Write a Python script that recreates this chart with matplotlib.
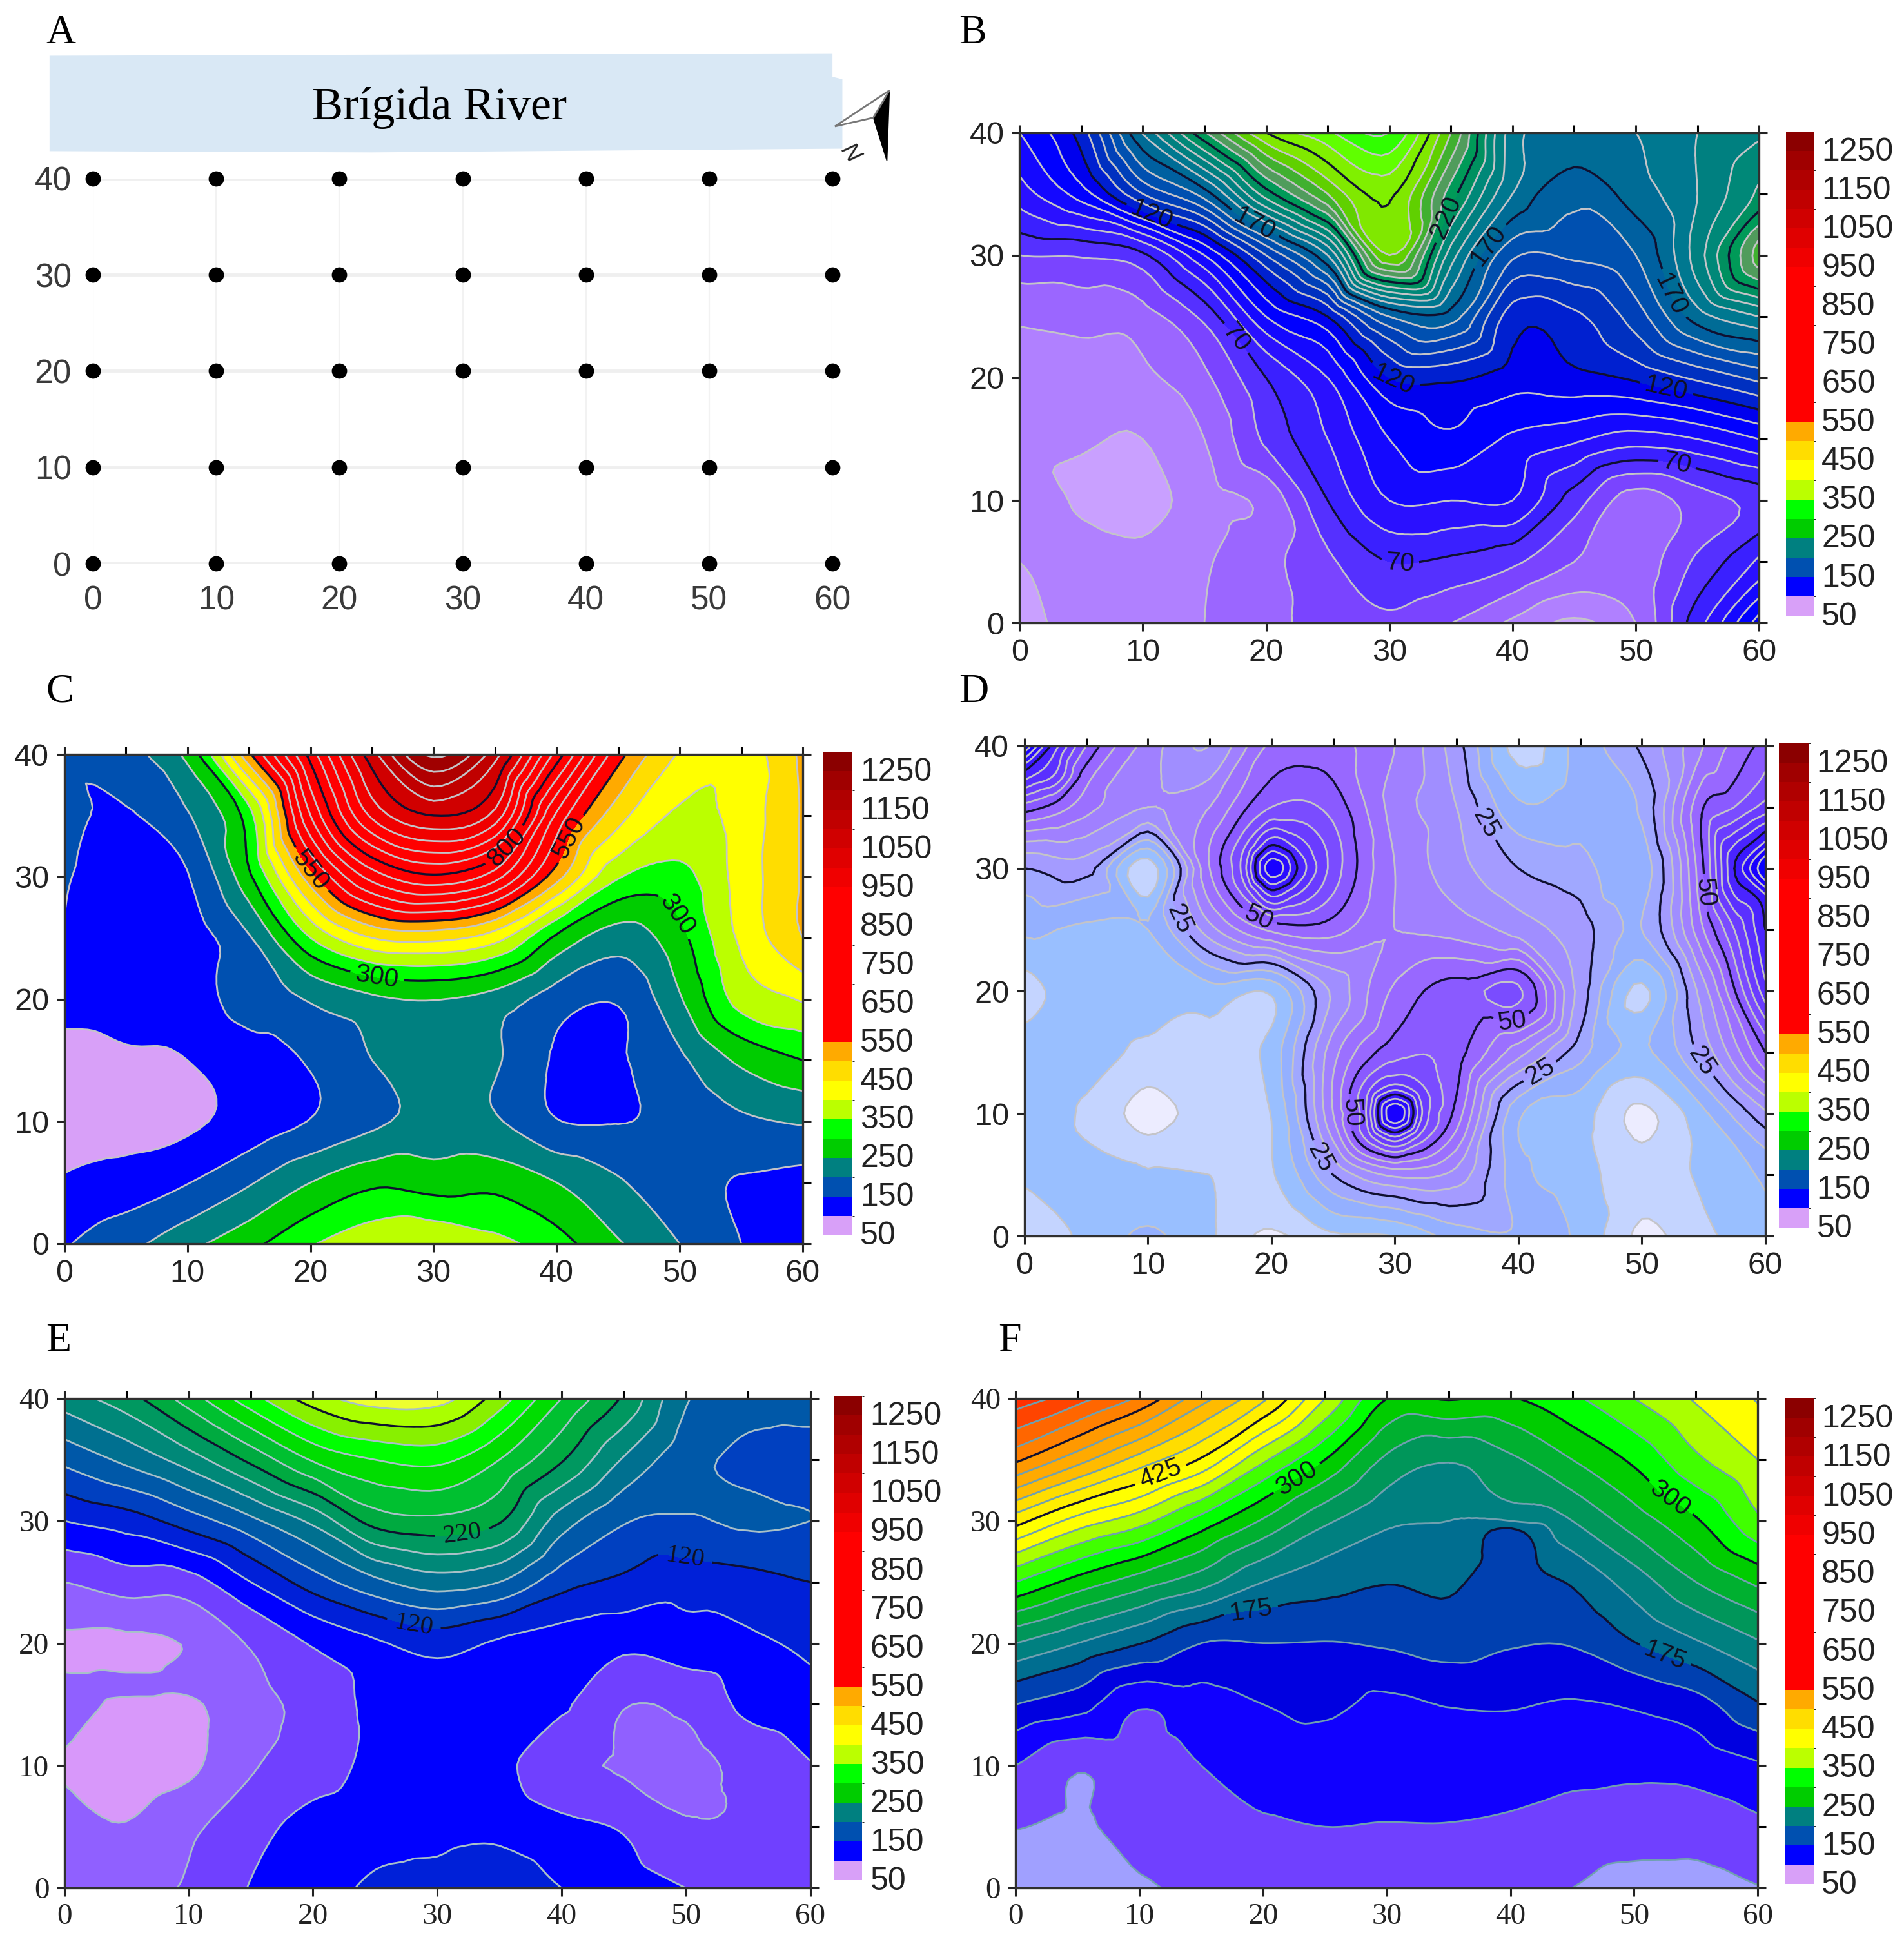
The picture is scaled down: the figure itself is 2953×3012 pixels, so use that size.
import numpy as np
import matplotlib
matplotlib.use("Agg")
import matplotlib.pyplot as plt
import matplotlib.tri as mtri
from matplotlib.colors import ListedColormap, BoundaryNorm
from matplotlib.cm import ScalarMappable
from matplotlib.patches import Polygon
from matplotlib.transforms import ScaledTranslation

W, H = 2953, 3012
SC = 2953 / 1537

x_vals = [0, 5, 10, 15, 20, 25, 30, 35, 40, 45, 50, 55, 60]
y_vals = [40, 35, 30, 25, 20, 15, 10, 5, 0]

grid_b = [
 [100,125,181,229,270,288,300,250,185,178,180,190,198],
 [85,105,140,165,215,250,272,225,180,163,175,190,212],
 [60,61,68,100,140,180,260,195,152,152,160,195,245],
 [42,44,46,63,100,120,160,165,125,128,145,175,190],
 [33,35,38,48,70,90,120,122,115,117,122,132,143],
 [32,31,30,40,62,80,100,108,98,92,85,90,100],
 [38,28.5,26,36,43,70,90,90,90,65,45,55,64],
 [30,34,33,39,47,58,70,68,62,50,44,62,82],
 [27,33,36,40,46,55,58,50,38,28,40,76,115],
]
grid_c = [
 [155,180,265,540,820,1080,1260,1120,830,570,445,420,510],
 [160,145,195,330,700,960,1050,980,640,470,390,420,505],
 [155,115,147,290,530,720,790,720,520,355,335,420,505],
 [148,115,125,195,350,450,465,420,290,225,285,410,500],
 [115,113,125,175,205,240,252,230,175,155,245,370,405],
 [88,96,100,125,155,200,215,205,145,146,190,260,300],
 [85,85,92,120,152,190,215,205,152,148,165,190,205],
 [105,120,148,195,250,290,280,285,250,205,170,147,135],
 [145,185,235,285,345,385,395,365,320,255,200,150,125],
]
grid_d = [
 [95,55,38,30,46,47,40,27,8,17,26,40,52],
 [53,42,35,40,55,53,38,30,16,18,21,50,62],
 [25,27,7,45,88,58,40,32,25,22,17,50,95],
 [16,14,15,33,46,47,40,38,33,27,20,45,75],
 [8,13,13,13,11,31,46,52,56,28,9,33,68],
 [12,12,9,9,12,38,53,52,37,22,14,27,50],
 [12,9.5,3,8,10.2,40,90,48,16,12,4,14,29],
 [10.5,11,10.5,10,9.5,25,36,33,17,12,7,11,16],
 [5,11,16,10.5,4,9,10,17,19,14,4,9,13],
]
extra_d = [(27.5,10,58),(32.5,10,62),(30,12.5,64),(30,7.5,62),(28,8,58),(32,8,58),(28,12,60),(32,12,62),
           (17.5,30,60),(22.5,30,72),(20,32.5,70),(20,27.5,68),(18,28,58),(22,28,66),(18,32,60),(22,32,68),
           (57.5,30,75),(60,32.5,78),(60,27.5,78),(57.5,35,55),(57.5,25,60),
           (2.5,40,72),(0,37.5,72),(2.5,37.5,64),(5,37.5,47),(2.5,35,48)]
grid_e = [
 [190,212,250,292,330,350,348,310,260,217,162,150,150],
 [145,165,190,225,262,280,285,260,222,178,148,135,132],
 [100,110,130,155,185,228,235,222,170,142,138,143,140],
 [60,70,72,100,130,155,170,160,128,116,108,113,120],
 [36,35,42,62,82,97,108,97,90,85,92,96,104],
 [50,36,37,54,66,85,90,90,83,61,64,85,93],
 [38,30,36,58,70,85,92,85,65,58,54,66,79],
 [48,41,56,72,88,93,95,95,85,78,62,62,68],
 [52,55,62,81,92,103,106,112,100,90,80,72,68],
]
extra_e = [(0,19,34),(5,19,32),(5,16.5,45),(10,17,46),(0,16,48)]
grid_f = [
 [640,610,570,510,455,375,300,302,298,320,350,378,402],
 [555,510,465,422,355,300,245,227,245,275,305,345,375],
 [435,390,360,315,272,230,205,200,200,225,262,297,345],
 [325,290,262,235,200,185,176,180,160,178,212,250,280],
 [225,200,176,150,150,149,153,160,152,152,174,197,222],
 [150,135,103,115,125,130,120,126,127,123,128,140,173],
 [100,78,88,100,112,112,113,113,112,108,106,110,122],
 [76,72,85,92,97,100,99,99,96,89,87,86,95],
 [62,65,72,80,85,86,86,85,82,75,66,66,74],
]
extra_f = [(40,29.4,175),(37.5,26.4,175),(42.5,26,175)]

levels_b = list(range(20, 311, 10))
fills_b = ['#C9A0FF','#B080FF','#9B66FF','#7A44FF','#5530FF','#3A20FF','#2A10FF','#1408FF',
           '#0000FF','#0000EE','#0020D0','#0030C0','#0040B8','#0050B0','#0060A0','#006C96','#007890',
           '#008080','#008878','#00905F','#009A58','#509C5C','#40B030','#60D000','#80E800','#80F000',
           '#60FF00','#30FF00','#00FF00']
levels_c = list(range(50, 1301, 50))
cbar_fills = ['#D8A0F8','#0000FF','#0050B0','#008080','#00CC00','#00FF00','#BBFF00','#FFFF00','#FFDD00','#FFAA00',
              '#FF0000','#FF0000','#FF0000','#FF0000','#FF0000','#FF0000','#FF0000','#FF0000',
              '#F00000','#E00000','#D00000','#C00000','#B00000','#A00000','#8B0000']
levels_d = list(range(0, 96, 5))
fills_d = ['#ECECFF','#C4D4FF','#99BFFF','#94B0FF','#A0A8FF','#A49BFF','#A08EFF','#A080FF','#9B70FF','#9868FF',
           '#8A5AFF','#7A4CFF','#6A3CFF','#5A30FF','#4A24FF','#3A18FF','#2A0CFF','#1800FF','#0800FF']
levels_e = list(range(20, 361, 20))
fills_e = ['#D898FA','#9060FF','#7040FF','#0000FF','#0020D8','#0040C0','#0058A8','#007090','#008878','#009860',
           '#00AA40','#00C030','#00DD00','#00FF00','#88F000','#AAFF00','#EEFF30']
levels_f = list(range(50, 651, 25))
fills_f = ['#A0A0FF','#7040FF','#1000FF','#0000E0','#0040B0','#006E90','#008080','#00965A','#00B030','#00CC00',
           '#00FF00','#40FF00','#AAFF00','#FFFF00','#FFFF00','#FFEE00','#FFDD00','#FFBB00','#FFAA00','#FF9900',
           '#FF8000','#FF6600','#FF4400','#FF3000']

cbar_bounds = list(range(50, 1301, 50))
cbar_ticks = list(range(50, 1251, 100))
sample_x = [0, 10, 20, 30, 40, 50, 60]
sample_y = [0, 10, 20, 30, 40]

fig = plt.figure(figsize=(W / 100, H / 100), dpi=100, facecolor='white')

def axes_at(x0, x1, ytop, ybot):
    return fig.add_axes([x0 * SC / W, 1 - ybot * SC / H, (x1 - x0) * SC / W, (ybot - ytop) * SC / H])

SANS = ['Liberation Sans', 'DejaVu Sans']
SERIF = ['Liberation Serif', 'DejaVu Serif']

def panel(box, cbox, grid, levels, fills, black, labels, family=SANS, fs=35, letter=None, lc='#C4C4C8',
          extra=(), lab_family=SANS):
    ax = axes_at(*box)
    X, Y = np.meshgrid(x_vals, y_vals)
    px = list(X.ravel().astype(float)) + [e[0] for e in extra]
    py = list(Y.ravel().astype(float)) + [e[1] for e in extra]
    z = np.array(list(np.array(grid, float).ravel()) + [e[2] for e in extra], float)
    tri = mtri.Triangulation(px, py)
    ref = mtri.UniformTriRefiner(tri)
    t2, z2 = ref.refine_field(z, mtri.CubicTriInterpolator(tri, z, kind='geom'), subdiv=3)
    ax.tricontourf(t2, z2, levels=levels, colors=[fills[0]] + fills + [fills[-1]], extend='both')
    grey = [l for l in levels if l not in black]
    ax.tricontour(t2, z2, levels=grey, colors=lc, linewidths=2.0)
    cs = ax.tricontour(t2, z2, levels=black, colors='#101030', linewidths=2.4)
    if labels:
        for t in ax.clabel(cs, inline=True, fontsize=29, fmt='%d', colors='#101020', manual=labels, inline_spacing=4):
            t.set_fontfamily(lab_family)
    ax.set_xlim(0, 60); ax.set_ylim(0, 40)
    ax.set_xticks(sample_x); ax.set_yticks(sample_y)
    ax.set_xticks(x_vals, minor=True); ax.set_yticks(y_vals, minor=True)
    ax.tick_params(which='major', direction='out', length=9, width=2.2, top=True, right=True,
                   bottom=True, left=True, labelsize=fs, pad=8, colors='#222222')
    ax.tick_params(which='minor', direction='out', length=9, width=2.2, top=True, right=True,
                   bottom=False, left=False)
    for t in ax.get_xticklabels() + ax.get_yticklabels():
        t.set_fontfamily(family)
    for s in ax.spines.values():
        s.set_linewidth(2.4); s.set_color('#303030')
    cax = axes_at(*cbox)
    cb = fig.colorbar(ScalarMappable(BoundaryNorm(cbar_bounds, 25), ListedColormap(cbar_fills)), cax=cax,
                      ticks=cbar_ticks, spacing='proportional')
    cb.outline.set_visible(False)
    cax.tick_params(length=0, labelsize=36, pad=9, colors='#222222')
    off = ScaledTranslation(0, 2.3 / 72, fig.dpi_scale_trans)
    for t in cax.get_yticklabels():
        t.set_fontfamily(SANS)
        t.set_transform(t.get_transform() + off)
    if letter:
        fig.text(letter[1] * SC / W, 1 - (letter[2] + 6) * SC / H, letter[0], family=SERIF, fontsize=46,
                 ha='left', va='center', color='black')
    return ax

# Panel A: sampling grid
axA = axes_at(75, 672, 144, 455)
sx, sy = np.meshgrid(sample_x, sample_y)
axA.set_xlim(0, 60); axA.set_ylim(0, 40)
axA.grid(False)
for v in sample_y:
    axA.axhline(v, color='#EFEFEF', lw=3.5, zorder=1)
for v in sample_x:
    axA.axvline(v, color='#F2F2F2', lw=1.6, zorder=1)
axA.scatter(sx.ravel(), sy.ravel(), s=260, color='black', zorder=3, clip_on=False)
axA.set_xticks(sample_x); axA.set_yticks(sample_y)
axA.tick_params(axis='x', length=0, labelsize=37, colors='#3a3a3a', pad=24)
axA.tick_params(axis='y', length=0, labelsize=37, colors='#3a3a3a', pad=24)
for t in axA.get_xticklabels() + axA.get_yticklabels():
    t.set_fontfamily(SANS)
for s in axA.spines.values():
    s.set_visible(False)

tf = fig.transFigure
def P(pts):
    return [(a * SC / W, 1 - b * SC / H) for a, b in pts]
fig.add_artist(Polygon(P([(40, 45), (672, 43), (672, 62), (680, 64), (680, 120), (300, 123), (40, 122)]),
                       closed=True, transform=tf, fc='#D9E8F5', ec='none'))
fig.text(355 * SC / W, 1 - 87 * SC / H, 'Brígida River', family=SERIF, fontsize=52, ha='center', va='center')
fig.text(37 * SC / W, 1 - 27 * SC / H, 'A', family=SERIF, fontsize=46, ha='left', va='center')
fig.add_artist(Polygon(P([(718, 73), (705, 95), (716, 130)]), closed=True, transform=tf, fc='black', ec='black'))
fig.add_artist(Polygon(P([(718, 73), (705, 95), (674, 102)]), closed=True, transform=tf, fc='white', ec='#777777', lw=2))
fig.text(686 * SC / W, 1 - 124 * SC / H, 'N', family=SANS, fontsize=26, rotation=-55, style='italic',
         ha='center', va='center', color='#222222')

panel((823, 1420, 107, 503), (1442, 1464, 106, 497), grid_b, levels_b, fills_b, [70, 120, 170, 220, 270],
      [(10.8, 33.4), (19, 32.4), (17.3, 23), (30.9, 5.2), (30.3, 19.8), (52.4, 18.7), (53.2, 12.4),
       (37.9, 30.9), (35.2, 32.8), (53.3, 27)],
      letter=('B', 774, 21))
panel((52, 648, 609, 1004), (664, 688, 607, 997), grid_c, levels_c, cbar_fills, [300, 550, 800, 1050],
      [(19.7, 30.3), (25.3, 21.2), (35.1, 33.1), (41.2, 33.1), (49.8, 26.9)], letter=('C', 37, 553))
panel((827, 1425, 602, 998), (1436, 1460, 600, 991), grid_d, levels_d, fills_d, [25, 50, 75],
      [(38, 34), (13, 26), (19, 26), (39.5, 17.5), (26, 10), (42, 13), (23, 6), (55, 28), (54.5, 14)],
      letter=('D', 774, 553), extra=extra_d)
panel((52, 654, 1129, 1524), (673, 696, 1127, 1518), grid_e, levels_e, fills_e, [120, 220, 320],
      [(32, 29), (28, 21), (50, 27.5)], family=SERIF, fs=34, letter=('E', 37, 1077), lc='#A8C0C8',
      extra=extra_e, lab_family=SERIF)
panel((820, 1419, 1129, 1524), (1441, 1464, 1129, 1521), grid_f, levels_f, fills_f, [175, 300, 425, 550],
      [(12, 33), (23, 33), (53, 32), (19, 23), (52.5, 19)], family=SERIF, fs=34, letter=('F', 806, 1077),
      lc='#70A0B0', extra=extra_f)

fig.savefig('out.png', dpi=100, facecolor='white')
